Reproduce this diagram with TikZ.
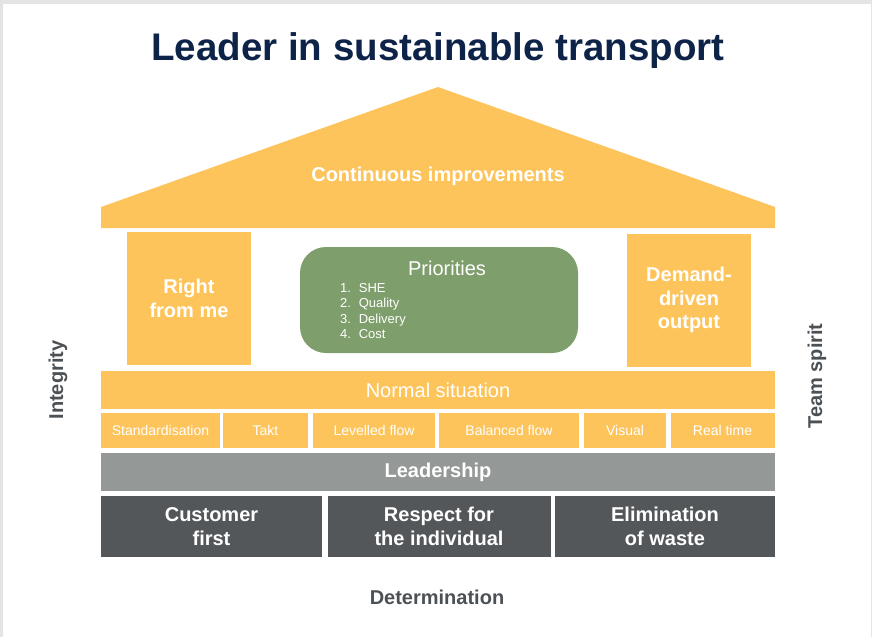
\documentclass[tikz,border=0pt]{standalone}
\usepackage{fontspec}
\setmainfont{Liberation Sans}
\definecolor{roofyellow}{HTML}{FEC45C}
\definecolor{prigreen}{HTML}{7E9E6C}
\definecolor{leadgrey}{HTML}{949897}
\definecolor{basedark}{HTML}{53575A}
\definecolor{titlenavy}{HTML}{0E2348}
\definecolor{labelgrey}{HTML}{4C5155}
\definecolor{framegrey}{HTML}{E4E4E4}
\tikzset{
  ybox/.style={fill=roofyellow, text=white, inner sep=0pt, align=center},
  bigtxt/.style={font=\fontsize{20}{23.5}\selectfont},
  bigbold/.style={font=\fontsize{20}{23.5}\selectfont\bfseries},
  smalltxt/.style={font=\fontsize{14}{16}\selectfont},
  sidelabel/.style={text=labelgrey, font=\fontsize{20}{24}\selectfont\bfseries, inner sep=0pt},
  basebox/.style={fill=basedark, text=white, inner sep=0pt, align=center, font=\fontsize{20}{24}\selectfont\bfseries}
}
\begin{document}
\begin{tikzpicture}[x=1pt,y=-1pt]
\useasboundingbox (0,0) rectangle (872,637);
\fill[framegrey] (0,0) rectangle (872,637);
\fill[white] (3,4) rectangle (871,637);

% title
\node[text=titlenavy, font=\fontsize{38.5}{41}\selectfont\bfseries, inner sep=0pt] (title) at (438,51) {Leader in sustainable transport};

% roof
\fill[roofyellow] (101,207) -- (438,87) -- (775,207) -- (775,228) -- (101,228) -- cycle;
\node[text=white, bigbold, inner sep=0pt] (roof) at (438,176) {Continuous improvements};

% pillars
\node[ybox, bigbold, minimum width=124pt, minimum height=133pt] (left) at (189,298.5) {Right\\from me};
\node[ybox, bigbold, minimum width=124pt, minimum height=133pt] (right) at (689,300) {Demand-\\driven\\output};

% priorities
\node[fill=prigreen, rounded corners=26pt, minimum width=278pt, minimum height=106pt, inner sep=0pt] (prio) at (439,300) {};
\node[text=white, bigtxt, inner sep=0pt] (priotitle) at (447,268) {Priorities};
\node[text=white, font=\fontsize{13}{15.5}\selectfont, anchor=north west, inner sep=0pt, align=left] (priolist) at (340,283)
  {1.\hspace{0.6em}SHE\\2.\hspace{0.6em}Quality\\3.\hspace{0.6em}Delivery\\4.\hspace{0.6em}Cost};

% normal situation
\node[ybox, bigtxt, minimum width=674pt, minimum height=38pt] (normal) at (438,390) {Normal situation};

% small boxes
\node[ybox, smalltxt, minimum width=119pt, minimum height=35pt] (std) at (160.5,430.5) {Standardisation};
\node[ybox, smalltxt, minimum width=85pt, minimum height=35pt] (takt) at (265.5,430.5) {Takt};
\node[ybox, smalltxt, minimum width=122pt, minimum height=35pt] (lev) at (374,430.5) {Levelled flow};
\node[ybox, smalltxt, minimum width=140pt, minimum height=35pt] (bal) at (509,430.5) {Balanced flow};
\node[ybox, smalltxt, minimum width=82pt, minimum height=35pt] (vis) at (625,430.5) {Visual};
\node[ybox, smalltxt, minimum width=104pt, minimum height=35pt] (real) at (722.5,430.5) {Real time};

% leadership
\node[fill=leadgrey, text=white, bigbold, inner sep=0pt, minimum width=674pt, minimum height=38pt] (lead) at (438,472) {Leadership};

% base
\node[basebox, minimum width=221pt, minimum height=61pt] (cust) at (211.5,526.5) {Customer\\first};
\node[basebox, minimum width=223pt, minimum height=61pt] (resp) at (439,526.5) {Respect for\\the individual};
\node[basebox, minimum width=220pt, minimum height=61pt] (elim) at (665,526.5) {Elimination\\of waste};

% side labels
\node[sidelabel] (det) at (437,597) {Determination};
\node[sidelabel, rotate=90] (integ) at (58,380) {Integrity};
\node[sidelabel, rotate=90] (team) at (817,376) {Team spirit};
\end{tikzpicture}
\end{document}
